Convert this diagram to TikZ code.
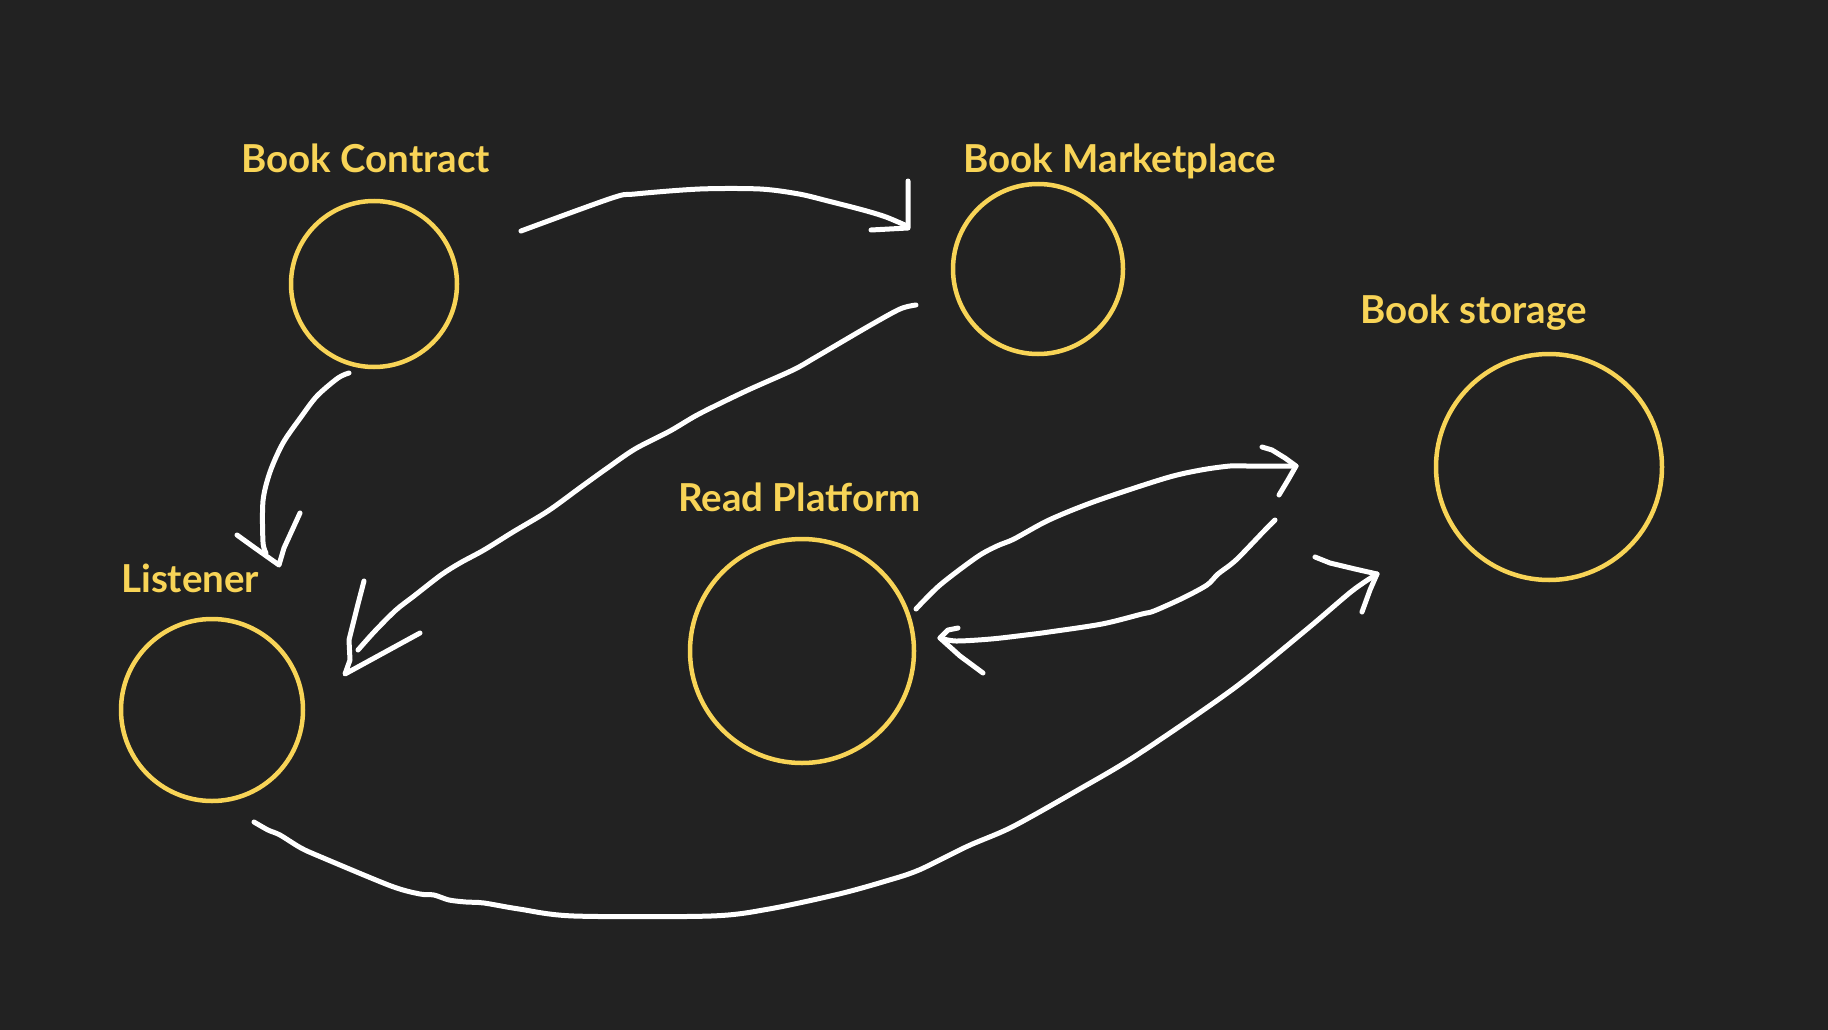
\documentclass[tikz,border=0pt]{standalone}
\usepackage{fontspec}
\setmainfont{Lato}
\definecolor{bgc}{HTML}{222222}
\definecolor{ylw}{HTML}{F8D457}
\tikzset{
  hub/.style={circle, draw=ylw, line width=4.5pt, inner sep=0pt},
  lbl/.style={text=ylw, font=\fontsize{38.5}{44}\selectfont\bfseries, inner sep=0pt, anchor=base west},
  wire/.style={draw=white, line width=5pt, line cap=round, line join=round},
}
\begin{document}
\begin{tikzpicture}[x=1pt,y=-1pt]
\fill[bgc] (0,0) rectangle (1828,1030);
\useasboundingbox (0,0) rectangle (1828,1030);

% circles
\node[hub, minimum size=166pt] (bc) at (374,284) {};
\node[hub, minimum size=170pt] (bm) at (1038,269) {};
\node[hub, minimum size=226pt] (bs) at (1549,467) {};
\node[hub, minimum size=224pt] (rp) at (802,651) {};
\node[hub, minimum size=182pt] (li) at (212,710) {};

% labels
\node[lbl] (bcl) at (241,172) {Book Contract};
\node[lbl] (bml) at (963,172) {Book Marketplace};
\node[lbl] (bsl) at (1360,323) {Book storage};
\node[lbl] (rpl) at (678,511) {Read Platform};
\node[lbl] (lil) at (121,592) {Listener};

% Book Contract -> Book Marketplace
\coordinate (a1s) at (521,231);
\coordinate (a1t) at (908,228);
\draw[wire] plot[smooth, tension=0.5] coordinates {(a1s) (612,198) (635,194) (700,189) (760,189) (799,194) (828,201) (863,210) (886,217) (907,226)};
\draw[wire] (908,181) -- (a1t) -- (871,230);

% Book Marketplace -> Listener
\coordinate (a2s) at (916,305);
\coordinate (a2t) at (345,674);
\draw[wire] plot[smooth, tension=0.5] coordinates {(a2s) (900,309) (869,326) (816,357) (793,370) (746,391) (699,414) (670,431) (635,449) (606,469) (581,487) (548,511) (513,532) (484,550) (460,563) (441,575) (414,596) (396,610) (375,631) (358,650)};
\draw[wire] (364,581) -- (358,604) -- (349,640) -- (350,660) -- (a2t) -- (420,633);

% Book Contract -> Listener
\coordinate (a3s) at (349,373);
\coordinate (a3t) at (279,565);
\draw[wire] plot[smooth, tension=0.5] coordinates {(a3s) (338,378) (317,396) (301,417) (283,443) (270,472) (263,501) (263,542) (266,553)};
\draw[wire] (237,535) -- (255,548) -- (a3t) -- (284,548) -- (300,513);

% Read Platform -> Book storage
\coordinate (a4s) at (916,609);
\coordinate (a4t) at (1296,466);
\draw[wire] plot[smooth, tension=0.5] coordinates {(a4s) (940,585) (977,557) (997,546) (1014,539) (1049,520) (1096,501) (1166,478) (1201,470) (1230,466) (1247,466) (a4t)};
\draw[wire] (1262,447) -- (1272,450) -- (1285,458) -- (a4t) -- (1288,480) -- (1279,495);

% Book storage -> Read Platform
\coordinate (a5s) at (1275,520);
\coordinate (a5t) at (940,638);
\draw[wire] plot[smooth, tension=0.5] coordinates {(a5s) (1265,530) (1236,560) (1218,574) (1207,585) (1183,598) (1154,611) (1142,614) (1102,624) (1049,632) (1026,635) (991,639) (956,641) (a5t)};
\draw[wire] (958,628) -- (948,630) -- (a5t) -- (960,656) -- (983,673);

% Listener -> Book storage
\coordinate (a6s) at (254,822);
\coordinate (a6t) at (1377,574);
\draw[wire] plot[smooth, tension=0.5] coordinates {(a6s) (268,830) (280,835) (301,848) (321,857) (391,886) (420,894) (434,895) (449,900) (466,902) (484,903) (519,909) (574,916) (711,916) (769,909) (839,894) (886,881) (919,870) (968,846) (1012,827) (1078,790) (1137,755) (1233,689) (1306,630) (1352,591) (a6t)};
\draw[wire] (1315,557) -- (1330,563) -- (1355,569) -- (a6t) -- (1370,590) -- (1362,612);
\end{tikzpicture}
\end{document}
